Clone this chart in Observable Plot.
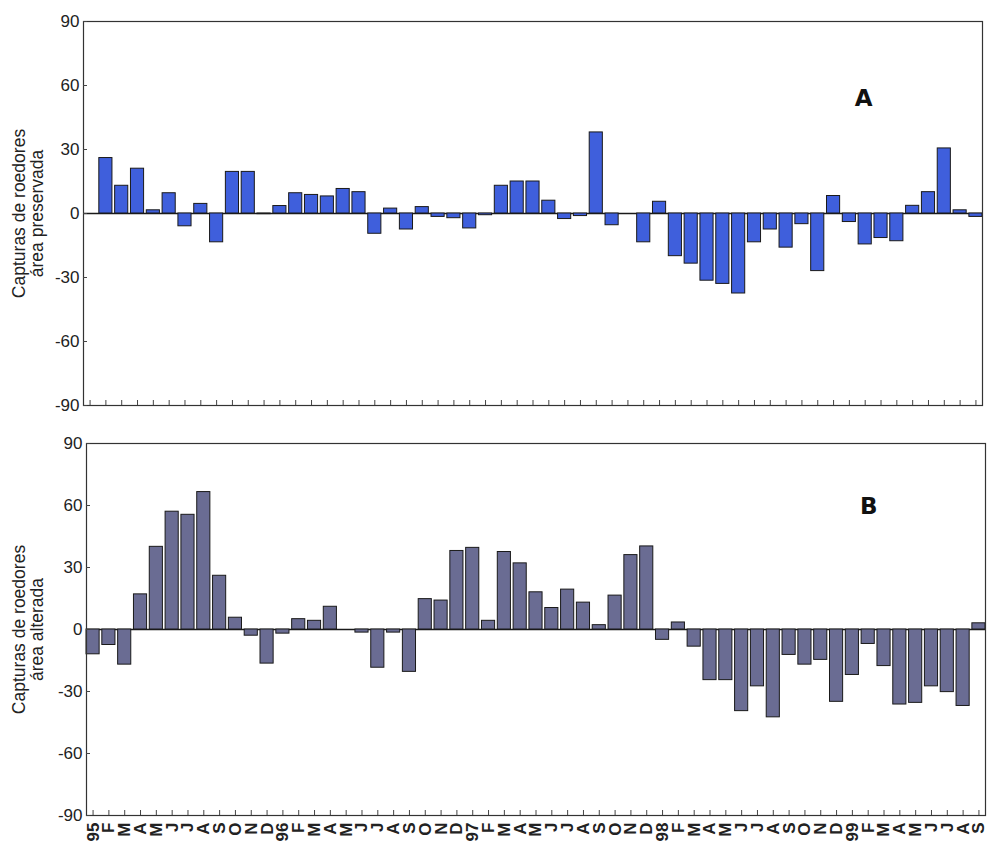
<!DOCTYPE html>
<html>
<head>
<meta charset="utf-8">
<script src="https://cdn.jsdelivr.net/npm/d3@7"></script>
<script src="https://cdn.jsdelivr.net/npm/@observablehq/plot@0.6"></script>
<style>
  body { margin: 0; background: #fff; }
  #wrap { position: relative; width: 987px; height: 851px; overflow: hidden; }
  #panelA { position: absolute; left: 0; top: 0; }
  #panelB { position: absolute; left: 0; top: 420px; }
</style>
</head>
<body>
<div id="wrap"><div id="panelA"></div><div id="panelB"></div></div>
<script>
// Month tick labels, Jan 1995 – Sep 1999
const monthLabels = [
  "95","F","M","A","M","J","J","A","S","O","N","D",
  "96","F","M","A","M","J","J","A","S","O","N","D",
  "97","F","M","A","M","J","J","A","S","O","N","D",
  "98","F","M","A","M","J","J","A","S","O","N","D",
  "99","F","M","A","M","J","J","A","S"
];

// A: Capturas de roedores – área preservada (Jan 95 has no bar)
const areaPreservada = [
  null, 26, 13, 21, 1.5, 9.5, -6, 4.5, -13.5, 19.5, 19.5, -0.3,
  3.5, 9.5, 8.7, 8, 11.5, 10, -9.5, 2.3, -7.5, 3, -1.6, -2.2,
  -7, -0.8, 13, 15, 15, 6, -2.6, -1.2, 38, -5.5, 0, -13.5,
  5.5, -20, -23.5, -31.5, -33, -37.5, -13.5, -7.5, -16, -5, -27, 8.2,
  -4, -14.5, -11.5, -13, 3.6, 10, 30.5, 1.5, -1.6
];

// B: Capturas de roedores – área alterada
const areaAlterada = [
  -12, -7.5, -17, 17, 40, 57, 55.5, 66.5, 26, 5.7, -3, -16.5,
  -2, 5, 4.2, 11, 0, -1.5, -18.5, -1.5, -20.5, 14.7, 14, 38,
  39.5, 4.2, 37.5, 32, 18, 10.4, 19.3, 13, 2.1, 16.4, 36, 40.2,
  -5, 3.4, -8.3, -24.5, -24.5, -39.5, -27.5, -42.5, -12.3, -17, -14.7, -35,
  -22, -7, -17.7, -36.3, -35.5, -27.5, -30.3, -37, 3
];

const yTicks = [-90, -60, -30, 0, 30, 60, 90];
const months = d3.range(monthLabels.length);

const fontFamily = "'Liberation Sans', Arial, Helvetica, sans-serif";

function panel({values, fill, title, letter, height, marginTop, marginBottom, marginLeft, marginRight, letterDx, letterDy, showLabels}) {
  const data = months.map(i => ({i, v: values[i]})).filter(d => d.v !== null);
  const marks = [
    Plot.ruleY([0], {stroke: "#1a1a1a", strokeWidth: 1.3}),
    Plot.barY(data, {x: "i", y: "v", fill, stroke: "#1a1a1a", strokeWidth: 1}),
    Plot.frame({stroke: "#333", strokeWidth: 1.2}),
    Plot.axisY({ticks: yTicks, tickSize: 0, tickPadding: 4, tickFormat: d => String(d), fontSize: 17, label: null}),
    Plot.axisY({ticks: yTicks, tickSize: -4, tickFormat: () => "", label: null, stroke: "#444"}),
    Plot.axisX({tickSize: -5, tickFormat: () => "", label: null, stroke: "#444"}),
    Plot.text([title], {frameAnchor: "left", dx: -marginLeft + 11, rotate: -90, textAnchor: "middle", lineAnchor: "top", lineHeight: 1.05, fontSize: 17.5, fill: "#222"}),
    Plot.text([letter], {frameAnchor: "top-right", dx: letterDx, dy: letterDy, fontSize: 23, fontWeight: "bold", fill: "#111", fontFamily: "'DejaVu Sans', Arial, sans-serif"})
  ];
  if (showLabels) {
    marks.push(Plot.axisX({tickSize: 0, tickPadding: 7, tickRotate: -90, tickFormat: i => monthLabels[i], fontSize: 17, fontWeight: "bold", label: null}));
  }
  return Plot.plot({
    width: 987,
    height,
    marginTop, marginBottom, marginLeft, marginRight,
    style: {fontFamily, fontSize: "16px", color: "#222", background: "white"},
    x: {type: "band", domain: months, paddingInner: 0.17, paddingOuter: 0, axis: null},
    y: {domain: [-90, 90], axis: null},
    marks
  });
}

document.getElementById("panelA").append(panel({
  values: areaPreservada,
  fill: "#3f5fdc",
  title: "Capturas de roedores\nárea preservada",
  letter: "A",
  height: 420, marginTop: 21, marginBottom: 15, marginLeft: 83, marginRight: 5,
  letterDx: -110, letterDy: 68,
  showLabels: false
}));

document.getElementById("panelB").append(panel({
  values: areaAlterada,
  fill: "#6a6c93",
  title: "Capturas de roedores\nárea alterada",
  letter: "B",
  height: 431, marginTop: 23, marginBottom: 36, marginLeft: 86, marginRight: 2,
  letterDx: -108, letterDy: 54,
  showLabels: true
}));
</script>
</body>
</html>
